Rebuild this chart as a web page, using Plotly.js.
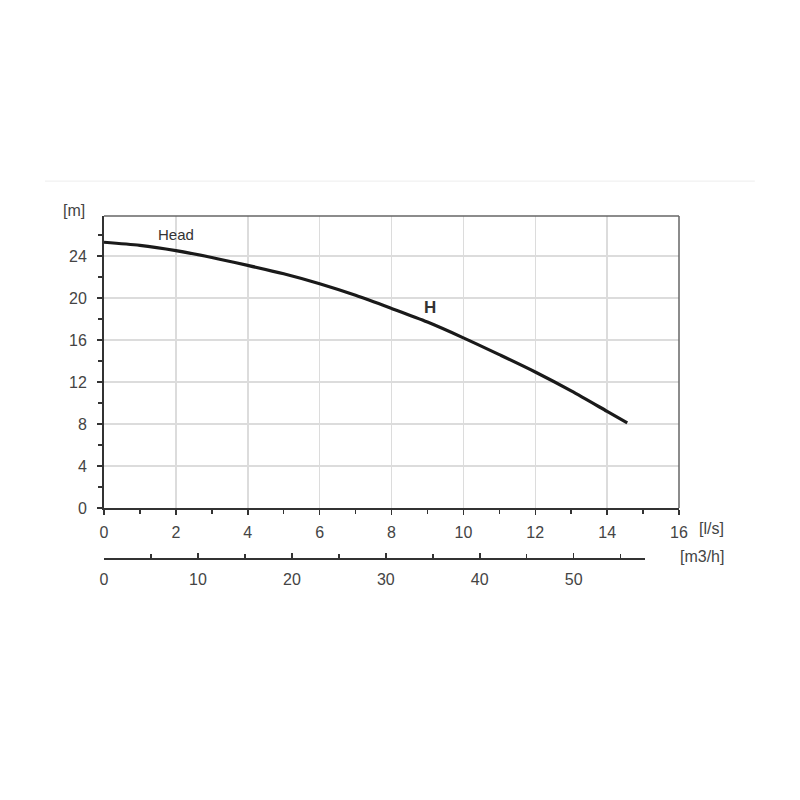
<!DOCTYPE html>
<html>
<head>
<meta charset="utf-8">
<script src="https://cdn.plot.ly/plotly-3.0.1.min.js"></script>
<style>html,body{margin:0;padding:0;background:#fff;}#chart{width:800px;height:800px;}</style>
</head>
<body>
<div id="chart"></div>
<script>
// Flow (l/s) and head (m)
var flowLs = [0, 1, 2, 3, 4, 5, 6, 7, 8, 9, 10, 11, 12, 13, 14, 14.56];
var headM  = [25.3, 25.0, 24.5, 23.85, 23.1, 22.3, 21.35, 20.25, 19.0, 17.7, 16.2, 14.6, 12.95, 11.15, 9.2, 8.1];

var lsTicks = [0, 2, 4, 6, 8, 10, 12, 14, 16];
var headTicks = [0, 4, 8, 12, 16, 20, 24];
var m3hTicks = [0, 10, 20, 30, 40, 50];
var m3hRange = [0, 57.6];

var font = {family: 'Liberation Sans, Arial, sans-serif', size: 16, color: '#444'};

var traces = [
  {x: flowLs, y: headM, type: 'scatter', mode: 'lines', xaxis: 'x', yaxis: 'y',
   line: {color: '#1a1a1a', width: 3.2, shape: 'spline', smoothing: 0.8}, hoverinfo: 'skip', showlegend: false},
  {x: m3hRange, y: [0, 0], type: 'scatter', mode: 'lines', xaxis: 'x2', yaxis: 'y2',
   line: {color: 'rgba(0,0,0,0)', width: 0}, hoverinfo: 'skip', showlegend: false}
];

var layout = {
  width: 800, height: 800,
  margin: {l: 104, r: 121, t: 216, b: 242},
  paper_bgcolor: '#fff', plot_bgcolor: 'rgba(0,0,0,0)',
  font: font,
  showlegend: false,
  xaxis: {
    range: [0, 16], anchor: 'y', domain: [0, 1],
    tickvals: lsTicks, ticks: 'outside', ticklen: 5, tickwidth: 1.5, tickcolor: '#333',
    showline: true, linecolor: '#333', linewidth: 2,
    showgrid: true, gridcolor: '#dcdcdc', gridwidth: 1.5,
    zeroline: false, tickfont: font, ticklabelstandoff: 4,
    minor: {dtick: 1, ticks: 'outside', ticklen: 4, tickcolor: '#333', showgrid: false}
  },
  yaxis: {
    range: [0, 27.8], domain: [0.1462, 1], anchor: 'x',
    tickvals: headTicks, ticks: 'outside', ticklen: 5, tickwidth: 1.5, tickcolor: '#333',
    showline: true, linecolor: '#333', linewidth: 2,
    showgrid: true, gridcolor: '#dcdcdc', gridwidth: 1.5,
    zeroline: false, tickfont: font, ticklabelstandoff: 7,
    minor: {dtick: 2, ticks: 'outside', ticklen: 4, tickcolor: '#333', showgrid: false}
  },
  xaxis2: {
    range: m3hRange, anchor: 'y2', domain: [0, 0.941], side: 'bottom',
    tickvals: m3hTicks, ticks: 'inside', ticklen: 5, tickwidth: 1.5, tickcolor: '#333',
    showline: true, linecolor: '#333', linewidth: 2,
    showgrid: false, zeroline: false, tickfont: font, ticklabelstandoff: 6,
    minor: {dtick: 5, ticks: 'inside', ticklen: 4, tickcolor: '#333', showgrid: false}
  },
  yaxis2: {
    domain: [0, 0.01], anchor: 'x2', range: [0, 1], visible: false,
    showgrid: false, zeroline: false, showline: false, showticklabels: false
  },
  shapes: [
    {type: 'line', xref: 'x domain', yref: 'y domain', x0: 0, x1: 1, y0: 1, y1: 1, line: {color: '#666', width: 1.5}},
    {type: 'line', xref: 'x domain', yref: 'y domain', x0: 1, x1: 1, y0: 0, y1: 1, line: {color: '#666', width: 1.5}},
    {type: 'line', xref: 'paper', yref: 'paper', x0: -0.1026, x1: 1.132, y0: 1.102, y1: 1.102, line: {color: '#eeeeee', width: 1}}
  ],
  annotations: [
    {text: 'Head', x: 2.0, y: 26.0, xref: 'x', yref: 'y', showarrow: false, xanchor: 'center', yanchor: 'middle', font: {family: font.family, size: 15, color: '#333'}},
    {text: '<b>H</b>', x: 9.07, y: 19.1, xref: 'x', yref: 'y', showarrow: false, xanchor: 'center', yanchor: 'middle', font: {family: font.family, size: 17, color: '#333'}},
    {text: '[m]', x: -0.052, y: 1.0175, xref: 'paper', yref: 'paper', showarrow: false, xanchor: 'center', yanchor: 'middle', font: font},
    {text: '[l/s]', x: 1.057, y: 0.0848, xref: 'paper', yref: 'paper', showarrow: false, xanchor: 'center', yanchor: 'middle', font: font},
    {text: '[m3/h]', x: 1.04, y: 0.003, xref: 'paper', yref: 'paper', showarrow: false, xanchor: 'center', yanchor: 'middle', font: font}
  ]
};

Plotly.newPlot('chart', traces, layout, {staticPlot: true, displayModeBar: false});
</script>
</body>
</html>
